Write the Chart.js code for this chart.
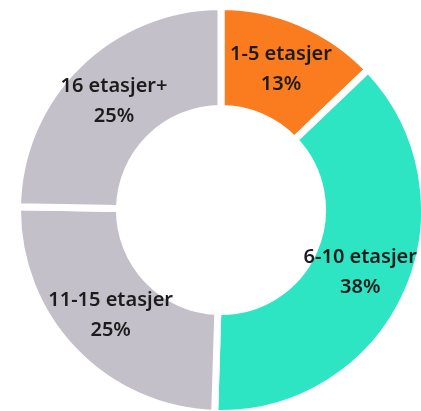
<!doctype html>
<html lang="no">
<head>
  <meta charset="utf-8">
  <title>Etasjer</title>
  <script src="https://cdn.jsdelivr.net/npm/chart.js"></script>
  <style>
    html, body {
      margin: 0;
      padding: 0;
      background: #ffffff;
      overflow: hidden;
    }

    .wrap {
      position: absolute;
      left: 14px;
      top: 3px;
      width: 414px;
      height: 414px;
    }
  </style>
</head>
<body>
  <div class="wrap">
    <canvas id="chart"></canvas>
  </div>

  <script>
    const categories = ['1-5 etasjer', '6-10 etasjer', '11-15 etasjer', '16 etasjer+'];
    const shares = [13, 38, 25, 25];
    const shareLabels = ['13%', '38%', '25%', '25%'];
    const colors = ['#fb7b1f', '#2de4c3', '#c4c0ca', '#c4c0ca'];

    // draws the two-line label in the middle of each slice
    const sliceLabels = {
      id: 'sliceLabels',
      afterDatasetsDraw(chart) {
        const ctx = chart.ctx;
        const meta = chart.getDatasetMeta(0);
        ctx.save();
        ctx.fillStyle = '#1c1c1c';
        ctx.textAlign = 'center';
        ctx.textBaseline = 'middle';
        ctx.font = '600 20px "Noto Sans", sans-serif';
        meta.data.forEach((arc, i) => {
          const p = arc.tooltipPosition();
          ctx.fillText(categories[i], p.x, p.y - 15);
          ctx.fillText(shareLabels[i], p.x, p.y + 15);
        });
        ctx.restore();
      }
    };

    new Chart(document.getElementById('chart'), {
      type: 'doughnut',
      data: {
        labels: categories,
        datasets: [{
          data: shares,
          backgroundColor: colors,
          borderColor: '#ffffff',
          borderWidth: 7,
          hoverOffset: 0
        }]
      },
      options: {
        responsive: true,
        maintainAspectRatio: false,
        animation: false,
        cutout: '49.9%',
        plugins: {
          legend: { display: false },
          tooltip: { enabled: false }
        }
      },
      plugins: [sliceLabels]
    });
  </script>
</body>
</html>
